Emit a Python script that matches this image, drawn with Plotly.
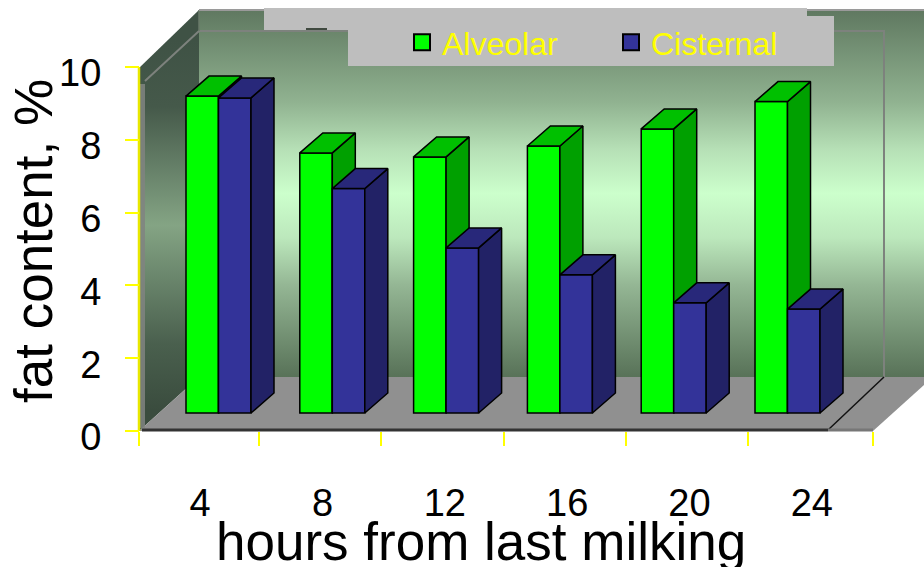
import plotly.graph_objects as go

# ---- data ----
hours = ["4", "8", "12", "16", "20", "24"]
alveolar = [9.2, 7.64, 7.53, 7.83, 8.3, 9.05]
cisternal = [9.15, 6.66, 5.03, 4.29, 3.52, 3.35]
y_ticks = [0, 2, 4, 6, 8, 10]

# ---- canvas <-> axis scale (pixels per axis unit) ----
W, H = 924, 567
PX_X, PX_Y = 122.33, 36.4
X0_PX, Y0_PX = 139, 431        # pixel of x=-0.5 and y=0


def X(p):
    return -0.5 + (p - X0_PX) / PX_X


def Y(p):
    return (Y0_PX - p) / PX_Y


# ---- faux-3D construction constants ----
persp = 113.8 / PX_X           # the bar plane is set back, so it is foreshortened
lift = 18 / PX_Y               # bars stand part-way back on the floor
bar_w = 32.5 / PX_X
off_a = X(186)
off_c = off_a + bar_w
ddx, ddy = 23 / PX_X, 20 / PX_Y  # bar depth
slots = [i * persp for i in range(len(hours))]
boundary_px = [139, 259, 381, 504, 626, 748, 873]


def side_faces(vals, off):
    xs, ys = [], []
    for s, v in zip(slots, vals):
        r = s + off + bar_w
        xs += [r, r + ddx, r + ddx, r, r, None]
        ys += [lift, lift + ddy, v + ddy, v, lift, None]
    return xs, ys


def top_faces(vals, off):
    xs, ys = [], []
    for s, v in zip(slots, vals):
        l = s + off
        xs += [l, l + ddx, l + bar_w + ddx, l + bar_w, l, None]
        ys += [v, v + ddy, v + ddy, v, v, None]
    return xs, ys


def poly(xs, ys, **kw):
    return go.Scatter(x=xs, y=ys, mode="lines", fill="toself", showlegend=False,
                      hoverinfo="skip", **kw)


def seg(xs, ys, color, width, z=0):
    return go.Scatter(x=xs, y=ys, mode="lines", line=dict(color=color, width=width),
                      showlegend=False, hoverinfo="skip", zorder=z)


fig = go.Figure()

# back wall
fig.add_trace(poly(
    [X(199), X(940), X(940), X(199), X(199)], [Y(10), Y(10), Y(377), Y(377), Y(10)],
    line=dict(width=0), zorder=0,
    fillgradient=dict(type="vertical", start=Y(10), stop=Y(377),
                      colorscale=[[0, "#5f7860"], [0.25, "#90b290"], [0.38, "#b6e0b6"],
                                  [0.5, "#ccffcc"], [0.62, "#bce8bc"], [0.75, "#94b694"],
                                  [1, "#587258"]])))
# left wall
fig.add_trace(poly(
    [X(139), X(199), X(199), X(139), X(139)], [Y(68), Y(10), Y(377), Y(431), Y(68)],
    line=dict(width=0), zorder=0,
    fillgradient=dict(type="vertical", start=Y(40), stop=Y(410),
                      colorscale=[[0, "#3f5245"], [0.18, "#45594a"], [0.5, "#84a484"],
                                  [0.82, "#4a604e"], [1, "#3a4c3e"]])))
# floor
fig.add_trace(poly(
    [X(139), X(873), X(933), X(199), X(139)], [Y(431), Y(431), Y(377), Y(377), Y(431)],
    line=dict(width=0), fillcolor="#909090", zorder=0))
# inner frame and edges
fig.add_trace(seg([X(142), X(142)], [Y(84), Y(428)], "rgba(128,132,128,0.85)", 6))
fig.add_trace(seg([X(145), X(199), X(884), X(884)], [Y(81), Y(31), Y(31), Y(377)], "#7d827d", 2))
fig.add_trace(seg([X(199), X(199)], [Y(10), Y(31)], "#6a7a6a", 1.5))
fig.add_trace(seg([X(199), X(940)], [Y(10), Y(10)], "#9a9a9a", 2))
fig.add_trace(seg([X(884), X(828)], [Y(377), Y(430)], "#111111", 1.5))
fig.add_trace(seg([X(142), X(828)], [Y(430), Y(430)], "#333333", 3))
fig.add_trace(seg([X(828), X(873)], [Y(430), Y(430)], "#777777", 3))
fig.add_trace(seg([X(139), X(139)], [Y(67), Y(431)], "#e8e800", 2.5))

# Alveolar bars
fig.add_trace(go.Bar(x=slots, y=[v - lift for v in alveolar], base=lift,
                     offset=off_a, width=bar_w, name="Alveolar", showlegend=False,
                     marker=dict(color="#00ff00", line=dict(color="#000000", width=1.5)),
                     zorder=1))
xs, ys = side_faces(alveolar, off_a)
fig.add_trace(poly(xs, ys, fillcolor="#00a000", line=dict(color="#000000", width=1.5), zorder=2))
xs, ys = top_faces(alveolar, off_a)
fig.add_trace(poly(xs, ys, fillcolor="#00c000", line=dict(color="#000000", width=1.5), zorder=2))

# Cisternal bars
fig.add_trace(go.Bar(x=slots, y=[v - lift for v in cisternal], base=lift,
                     offset=off_c, width=bar_w, name="Cisternal", showlegend=False,
                     marker=dict(color="#333399", line=dict(color="#000000", width=1.5)),
                     zorder=3))
xs, ys = side_faces(cisternal, off_c)
fig.add_trace(poly(xs, ys, fillcolor="#222266", line=dict(color="#000000", width=1.5), zorder=4))
xs, ys = top_faces(cisternal, off_c)
fig.add_trace(poly(xs, ys, fillcolor="#28287a", line=dict(color="#000000", width=1.5), zorder=4))

# legend entries
for name, col in (("Alveolar", "#00ff00"), ("Cisternal", "#333399")):
    fig.add_trace(go.Scatter(x=[None], y=[None], mode="markers", name=name,
                             marker=dict(symbol="square", size=16, color=col,
                                         line=dict(color="#000000", width=2))))

# legend plates
shapes = [
    dict(type="rect", xref="paper", yref="paper", layer="above", line_width=0, fillcolor="#bebebe",
         x0=264 / W, x1=807 / W, y0=1 - 30 / H, y1=1 - 8 / H),
    dict(type="rect", xref="paper", yref="paper", layer="above", line_width=0, fillcolor="#404a40",
         x0=306 / W, x1=327 / W, y0=1 - 30 / H, y1=1 - 28 / H),
    dict(type="rect", xref="paper", yref="paper", layer="above", line_width=0, fillcolor="#bebebe",
         x0=348 / W, x1=834 / W, y0=1 - 66 / H, y1=1 - 16 / H),
]

annotations = [
    dict(text="hours from last milking", xref="paper", yref="paper", x=481 / W, y=1 - 541 / H,
         showarrow=False, xanchor="center", yanchor="middle",
         font=dict(size=53, color="#000000", family="Liberation Sans")),
    dict(text="fat content, %", xref="paper", yref="paper", x=34 / W, y=1 - 241 / H,
         showarrow=False, textangle=-90, xanchor="center", yanchor="middle",
         font=dict(size=53, color="#000000", family="Liberation Sans")),
]

fig.update_layout(
    width=W, height=H, margin=dict(l=0, r=0, t=0, b=0), autosize=False,
    paper_bgcolor="#ffffff", plot_bgcolor="#ffffff",
    barmode="overlay", shapes=shapes, annotations=annotations,
    font=dict(family="Liberation Sans", color="#000000"),
    legend=dict(orientation="h", x=402 / W, y=1 - 15 / H, xanchor="left", yanchor="top",
                bgcolor="rgba(0,0,0,0)", borderwidth=0, itemsizing="trace",
                entrywidth=164, entrywidthmode="pixels",
                font=dict(size=32, color="#ffff00", family="Liberation Sans")),
    xaxis=dict(range=[X(0), X(W)], domain=[0, 1], anchor="free", position=(H - Y0_PX) / H,
               tickmode="array", tickvals=list(range(6)), ticktext=hours, ticks="",
               ticklabelstandoff=46, tickfont=dict(size=38, color="#000000"),
               showgrid=False, zeroline=False, showline=False,
               minor=dict(tickmode="array", tickvals=[X(p) for p in boundary_px], ticks="outside",
                          ticklen=14, tickwidth=2, tickcolor="#ffff00", showgrid=False)),
    yaxis=dict(range=[Y(H), Y(0)], domain=[0, 1], anchor="free", position=X0_PX / W,
               tickmode="array", tickvals=y_ticks, ticks="outside", ticklen=14, tickwidth=2,
               tickcolor="#ffff00", ticklabelstandoff=16, ticklabelshift=6,
               tickfont=dict(size=38, color="#000000"),
               showgrid=False, zeroline=False, showline=False),
)

fig.write_html("out.html", config={"displayModeBar": False},
               post_script="document.body.style.margin='0';document.body.style.overflow='hidden';")
